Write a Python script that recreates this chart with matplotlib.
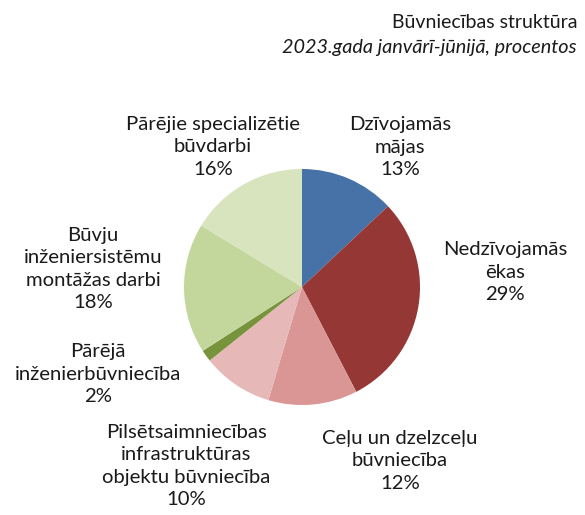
import matplotlib
matplotlib.use("Agg")
import matplotlib.pyplot as plt

# Construction output structure, Jan-Jun 2023, percent of total
categories = [
    "Dzīvojamās\nmājas",
    "Nedzīvojamās\nēkas",
    "Ceļu un dzelzceļu\nbūvniecība",
    "Pilsētsaimniecības\ninfrastruktūras\nobjektu būvniecība",
    "Pārējā\ninženierbūvniecība",
    "Būvju\ninženiersistēmu\nmontāžas darbi",
    "Pārējie specializētie\nbūvdarbi",
]
shares = [13.0, 29.4, 12.2, 9.7, 1.6, 17.8, 16.3]
colors = ["#4672A8", "#953735", "#D99694", "#E6B9B8", "#77933C", "#C3D69B", "#D7E4BD"]

# label anchor positions in pixels (x, y from top)
label_pos = [(400, 147), (505, 272), (400, 461), (186, 466), (98, 374), (93, 269), (213, 147)]

W, H = 585, 515
fig = plt.figure(figsize=(W / 100, H / 100), dpi=100)
plt.rcParams["font.family"] = ["Lato", "DejaVu Sans"]

cx, cy, r = 302, 287, 118
ax = fig.add_axes([(cx - r) / W, 1 - (cy + r) / H, 2 * r / W, 2 * r / H])
ax.pie(shares, colors=colors, startangle=90, counterclock=False,
       wedgeprops=dict(linewidth=0))
ax.set_xlim(-1, 1)
ax.set_ylim(-1, 1)
ax.set_aspect("equal")
ax.axis("off")

txt_color = "#1a1a1a"
for name, val, (px, py) in zip(categories, shares, label_pos):
    fig.text(px / W, 1 - py / H, f"{name}\n{round(val):.0f}%", ha="center", va="center",
             multialignment="center", fontsize=14.6, linespacing=1.4, color=txt_color)

fig.text(577 / W, 1 - 22 / H, "Būvniecības struktūra", ha="right", va="center",
         fontsize=14, color=txt_color)
fig.text(577 / W, 1 - 48 / H, "2023.gada janvārī-jūnijā, procentos", ha="right", va="center",
         fontsize=14.3, style="italic", color=txt_color)

fig.savefig("out.png", dpi=100)
